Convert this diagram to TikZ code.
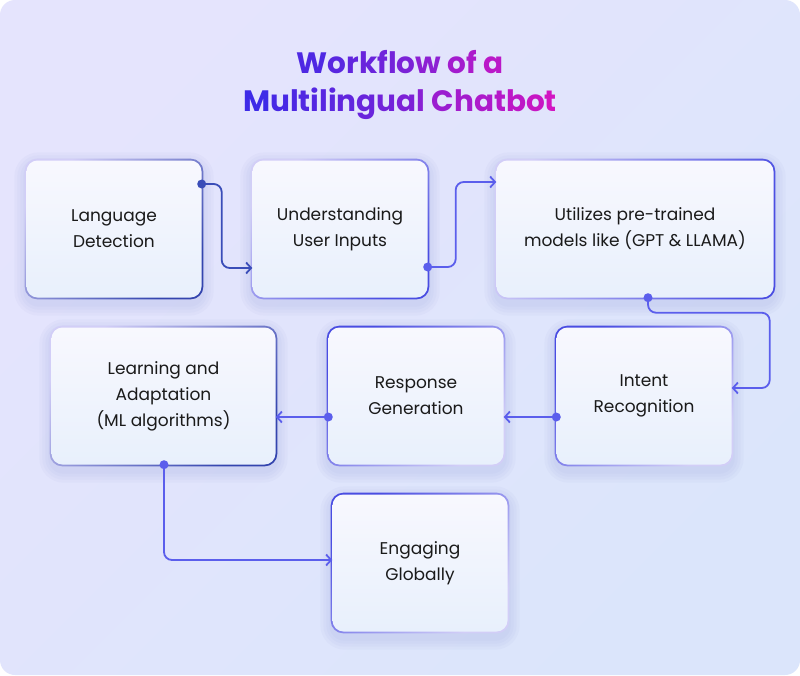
\documentclass[tikz,border=0pt]{standalone}
\usepackage{fontspec}
\setmainfont{Poppins}
\usetikzlibrary{arrows.meta,backgrounds}
\definecolor{bgA}{HTML}{E5E4FD}
\definecolor{bgB}{HTML}{DBE5FB}
\definecolor{boxTop}{HTML}{F8F8FE}
\definecolor{boxBot}{HTML}{E8F0FC}
\definecolor{ringLight}{HTML}{D2CEF7}
\definecolor{darkA}{HTML}{3445AE}
\definecolor{darkB}{HTML}{4A4DE2}
\definecolor{lineA}{HTML}{3A4DB8}
\definecolor{lineB}{HTML}{5B5EEC}
\definecolor{txt}{HTML}{1A1A1A}
\definecolor{shadowc}{HTML}{8F9BD8}
\definecolor{tA}{HTML}{3B2BE8}
\definecolor{tB}{HTML}{D814C0}
\newcommand\gc[2]{\textcolor{tB!#1!tA}{#2}}
\tikzset{
  wfnode/.style={rectangle, rounded corners=11pt, inner sep=0pt,
    top color=boxTop, bottom color=boxBot, text=txt, align=center,
    font=\fontsize{17}{26}\selectfont},
  ring/.style={rounded corners=12.5pt},
  conn/.style={line width=1.8pt, rounded corners=8pt,
    -{Straight Barb[length=5pt,width=11pt,line width=1.8pt]}},
}
\newcommand\wfbox[7]{%
  \node[wfnode, minimum width=#4pt, minimum height=#5pt] (#1) at (#2,#3) {#7};
  \begin{scope}[on background layer]
    \foreach \s in {12,9,6,3}
      \fill[shadowc, opacity=0.06, rounded corners=12.5pt+\s pt]
        ([shift={(-\s pt,\s pt-4pt)}]#1.north west) rectangle ([shift={(\s pt,-\s pt-6pt)}]#1.south east);
    \shade[ring, #6] ([shift={(-1.6pt,1.6pt)}]#1.north west) rectangle ([shift={(1.6pt,-1.6pt)}]#1.south east);
  \end{scope}
}
\begin{document}
\begin{tikzpicture}[x=1pt,y=-1pt]
\useasboundingbox (0,0) rectangle (800,675);
\begin{scope}[on background layer]
  \fill[white] (0,0) rectangle (800,675);
  \shade[top color=bgA, bottom color=bgB, shading angle=45, rounded corners=15pt] (0,0) rectangle (800,675);
\end{scope}

\node[font=\fontsize{29.5}{38}\selectfont\bfseries, align=center] (title) at (400,85)
  {\gc{12}{W}\gc{19}{o}\gc{24}{r}\gc{29}{k}\gc{33}{f}\gc{36}{l}\gc{41}{o}\gc{52}{w} \gc{66}{o}\gc{72}{f} \gc{81}{a}\\
   \gc{2}{M}\gc{8}{u}\gc{12}{l}\gc{14}{t}\gc{16}{i}\gc{18}{l}\gc{20}{i}\gc{24}{n}\gc{29}{g}\gc{35}{u}\gc{42}{a}\gc{50}{l} \gc{61}{C}\gc{67}{h}\gc{73}{a}\gc{78}{t}\gc{83}{b}\gc{89}{o}\gc{96}{t}};

\wfbox{lang}{114}{229}{175}{137}{top color=ringLight, bottom color=darkA, shading angle=45}{Language\\Detection}
\wfbox{und}{340}{229}{175}{137}{top color=ringLight, bottom color=darkB, shading angle=45}{Understanding\\User Inputs}
\wfbox{util}{635}{229}{277}{137}{top color=ringLight, bottom color=darkB, shading angle=70}{Utilizes pre-trained\\models like (GPT \& LLAMA)}
\wfbox{intent}{644}{396}{175}{137}{top color=darkB, bottom color=ringLight, shading angle=45}{Intent\\Recognition}
\wfbox{resp}{416}{396}{175}{137}{top color=darkB, bottom color=ringLight, shading angle=45}{Response\\Generation}
\wfbox{learn}{163.5}{396}{224}{137}{top color=ringLight, bottom color=darkA, shading angle=45}{Learning and\\Adaptation\\(ML algorithms)}
\wfbox{eng}{420}{563}{175}{137}{top color=darkB, bottom color=ringLight, shading angle=45}{Engaging\\Globally}

\coordinate (d1) at ([yshift=45pt]lang.east);
\coordinate (d2) at ([yshift=-38pt]und.east);
\coordinate (d3) at ([xshift=13pt]util.south);
\coordinate (d4) at ([yshift=-21pt]intent.west);
\coordinate (d5) at ([yshift=-21pt]resp.west);
\coordinate (d6) at ([xshift=0.5pt]learn.south);

\draw[conn, lineA] (d1) -- ++(20,0) |- ([yshift=-39pt]und.west);
\draw[conn, lineB] (d2) -- ++(28,0) |- ([yshift=47pt]util.west);
\draw[conn, lineB] (d3) -- ++(0,15) -| ([shift={(38pt,8pt)}]intent.east) -- ([yshift=8pt]intent.east);
\draw[conn, lineB] (d4) -- ([yshift=-21pt]resp.east);
\draw[conn, lineB] (d5) -- ([yshift=-21pt]learn.east);
\draw[conn, lineB] (d6) |- ([yshift=3pt]eng.west);

\fill[lineA] (d1) circle (4.5pt);
\foreach \d in {d2,d3,d4,d5,d6} \fill[lineB] (\d) circle (4.5pt);
\end{tikzpicture}
\end{document}
